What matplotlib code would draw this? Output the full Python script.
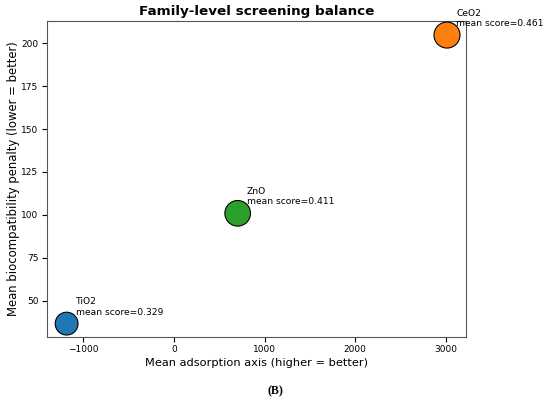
import numpy as np
import matplotlib
matplotlib.use('Agg')
import matplotlib.pyplot as plt

# family-level means
families = ['TiO2', 'ZnO', 'CeO2']
adsorption = [-1185, 703, 3013]
penalty = [36.6, 100.9, 204.8]
mean_score = [0.329, 0.411, 0.461]
marker_size = [270, 340, 350]
colors = ['#1f77b4', '#2ca02c', '#ff7f0e']

fig = plt.figure(figsize=(5.5, 4.01), dpi=100)
ax = fig.add_axes([46.7/550, 1 - 337/401, 419.3/550, 316/401])

ax.scatter(adsorption, penalty, s=marker_size, c=colors, edgecolors='black',
           linewidths=0.8, zorder=3)

for name, xv, yv, sc in zip(families, adsorption, penalty, mean_score):
    ax.annotate(f'{name}\nmean score={sc:.3f}', (xv, yv),
                xytext=(6.5, 5), textcoords='offset points',
                fontsize=6.6, va='bottom', ha='left')

ax.set_xlim(-1405, 3223)
ax.set_ylim(28.8, 213)
ax.set_xticks([-1000, 0, 1000, 2000, 3000])
ax.set_yticks([50, 75, 100, 125, 150, 175, 200])
ax.tick_params(labelsize=6.5, length=3.5, pad=2.5)
for sp in ax.spines.values():
    sp.set_color('#555555')

ax.set_xlabel('Mean adsorption axis (higher = better)', fontsize=8.2, labelpad=2.5)
ax.set_ylabel('Mean biocompatibility penalty (lower = better)', fontsize=8.4, labelpad=0.5)
ax.set_title('Family-level screening balance', fontsize=9.7, fontweight='bold', pad=4)

fig.text(0.5, 1 - 391/401, '(B)', family='Liberation Serif', fontweight='bold',
         fontsize=8.5, ha='center', va='center')

fig.savefig('out.png', dpi=100)
